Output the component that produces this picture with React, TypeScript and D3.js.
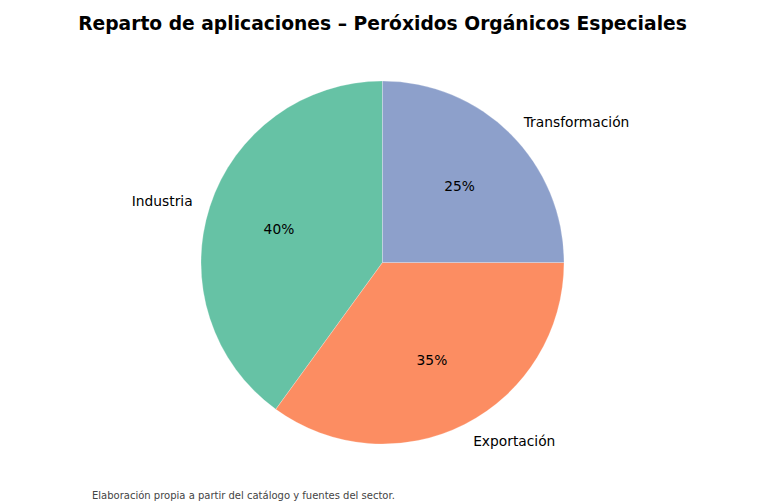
import { useEffect, useRef } from "react";
import * as d3 from "d3";

const categories = ["Industria", "Exportación", "Transformación"];
const shares = [40, 35, 25];
const colors = ["#66c2a5", "#fc8d62", "#8da0cb"];

const TITLE = "Reparto de aplicaciones – Peróxidos Orgánicos Especiales";
const NOTE = "Elaboración propia a partir del catálogo y fuentes del sector.";

export default function App() {
  const ref = useRef<SVGSVGElement>(null);

  useEffect(() => {
    if (!ref.current) return;
    const width = 765;
    const height = 503;
    const cx = 382.5;
    const cy = 262.5;
    const radius = 181.5;
    const font = "DejaVu Sans, sans-serif";

    const svg = d3.select(ref.current);
    svg.selectAll("*").remove();

    svg.append("rect").attr("width", width).attr("height", height).attr("fill", "#fff");

    // Title
    svg.append("text")
      .attr("x", width / 2)
      .attr("y", 29.5)
      .attr("text-anchor", "middle")
      .style("font-family", font)
      .style("font-size", "18.7px")
      .style("font-weight", "bold")
      .text(TITLE);

    const data = categories.map((c, i) => ({ name: c, value: shares[i], color: colors[i] }));

    // matplotlib style: start at top, counter-clockwise
    const pie = d3.pie<{ name: string; value: number; color: string }>()
      .value((d) => d.value)
      .sort(null)
      .startAngle(0)
      .endAngle(-2 * Math.PI);

    const arc = d3.arc<d3.PieArcDatum<{ name: string; value: number; color: string }>>()
      .innerRadius(0)
      .outerRadius(radius);

    const g = svg.append("g").attr("transform", `translate(${cx},${cy})`);
    const arcs = pie(data);

    g.selectAll("path")
      .data(arcs)
      .enter()
      .append("path")
      .attr("d", arc)
      .attr("fill", (d) => d.data.color)
      .attr("stroke", "#ffffff")
      .attr("stroke-width", 0.4)
      .attr("stroke-opacity", 0.6);

    const total = d3.sum(shares);

    arcs.forEach((d) => {
      const mid = (d.startAngle + d.endAngle) / 2;
      const sx = Math.sin(mid);
      const sy = -Math.cos(mid);

      // outer category label
      g.append("text")
        .attr("x", sx * radius * 1.1)
        .attr("y", sy * radius * 1.1 + 0.7)
        .attr("dy", "0.35em")
        .attr("text-anchor", sx >= 0 ? "start" : "end")
        .style("font-family", font)
        .style("font-size", "13.8px")
        .text(d.data.name);

      // percentage
      g.append("text")
        .attr("x", sx * radius * 0.6)
        .attr("y", sy * radius * 0.6 + 0.7)
        .attr("dy", "0.35em")
        .attr("text-anchor", "middle")
        .style("font-family", font)
        .style("font-size", "13.8px")
        .text(`${Math.round((d.data.value / total) * 100)}%`);
    });

    // footnote
    svg.append("text")
      .attr("x", 92)
      .attr("y", 498.5)
      .style("font-family", font)
      .style("font-size", "10px")
      .style("fill", "#444")
      .text(NOTE);
  }, []);

  return (
    <svg
      ref={ref}
      width={765}
      height={503}
      style={{ position: "absolute", left: 0, top: 0, display: "block" }}
    />
  );
}
